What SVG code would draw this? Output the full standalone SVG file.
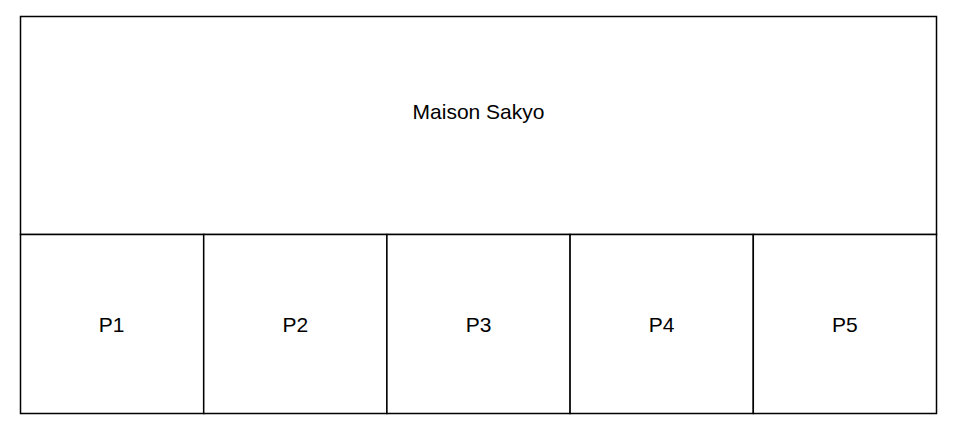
<svg xmlns="http://www.w3.org/2000/svg" width="955" height="434" viewBox="0 0 955 434">
<style>
.box{fill:#fff;stroke:#000;stroke-width:1.5}
.lbl{font-family:"Liberation Sans",Arial,sans-serif;font-size:21px;fill:#000;text-anchor:middle}
</style>
<rect width="955" height="434" fill="#fff"/>
<g id="maison">
<rect class="box" x="20.5" y="16.5" width="916" height="218"/>
<text class="lbl" x="478.5" y="118.5">Maison Sakyo</text>
</g>
<g id="p1">
<rect class="box" x="20.5" y="234.5" width="183.2" height="179"/>
<text class="lbl" x="111.5" y="331.5">P1</text>
</g>
<g id="p2">
<rect class="box" x="203.7" y="234.5" width="183.2" height="179"/>
<text class="lbl" x="295.3" y="331.5">P2</text>
</g>
<g id="p3">
<rect class="box" x="386.9" y="234.5" width="183.2" height="179"/>
<text class="lbl" x="478.5" y="331.5">P3</text>
</g>
<g id="p4">
<rect class="box" x="570.1" y="234.5" width="183.2" height="179"/>
<text class="lbl" x="661.7" y="331.5">P4</text>
</g>
<g id="p5">
<rect class="box" x="753.3" y="234.5" width="183.2" height="179"/>
<text class="lbl" x="844.9" y="331.5">P5</text>
</g>
<g id="connectors"></g>
</svg>
